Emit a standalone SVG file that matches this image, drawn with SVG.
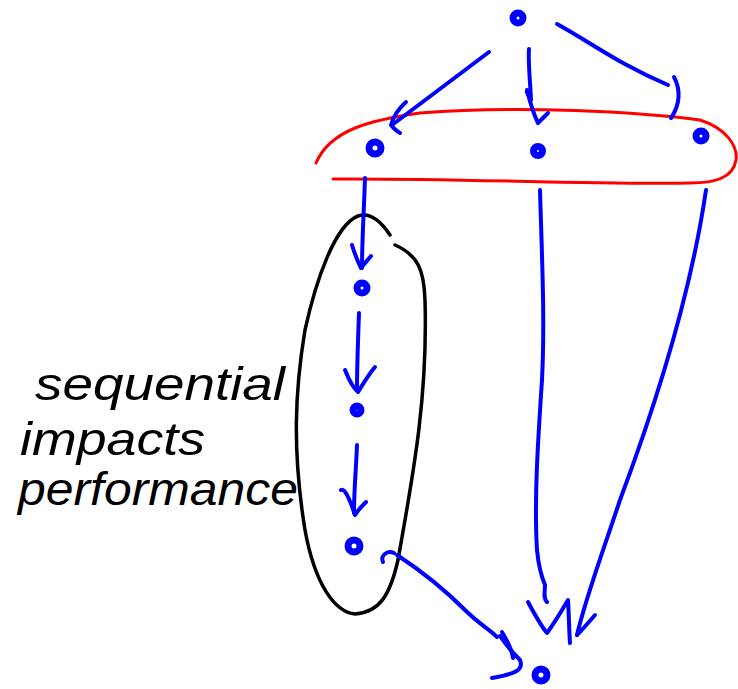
<svg xmlns="http://www.w3.org/2000/svg" width="738" height="689" viewBox="0 0 738 689">
<style>
.n{fill:none;stroke:#0000ff;stroke-width:7;stroke-linecap:round}
.c{fill:none;stroke:#0000ff;stroke-width:4;stroke-linecap:round;stroke-linejoin:round}
.red{fill:none;stroke:#ff0000;stroke-width:3;stroke-linecap:round}
.blk{fill:none;stroke:#000000;stroke-width:3.5;stroke-linecap:round}
.t{font-family:"Liberation Sans",Arial,sans-serif;font-style:italic;font-size:46px;fill:#000000}
</style>
<rect width="738" height="689" fill="#ffffff"/>
<g id="groups">
<path id="red-group" class="red" d="M316,163 C330,130 370,120 420,113 C520,105 640,112 700,120 C725,128 738,145 736,160 C733,178 715,183 690,183 C600,185 450,178 333,179"/>
<path id="black-group" class="blk" d="M390,235 C380,220 370,212 358,216 C335,225 316,280 305,330 C295,390 292,450 305,530 C315,585 335,612 355,614 C380,612 390,595 398,560 C412,480 428,400 425,300 C424,270 418,255 395,245"/>
</g>
<g id="connectors">
<path class="c" d="M489,52 L392,125"/>
<path class="c" d="M406,102 C397,110 393,118 391,125 C395,130 398,132 400,133"/>
<path class="c" d="M529,49 C528,62 530,78 531,100 C528,95 526,90 527,92"/>
<path class="c" d="M527,90 C530,102 533,113 538,123 C542,119 545,116 548,113"/>
<path class="c" d="M557,24 C590,42 620,65 668,85"/>
<path class="c" d="M674,77 C681,90 680,105 671,118"/>
<path class="c" d="M365,178 C364,210 362,240 362,268"/>
<path class="c" d="M352,245 C355,255 358,262 361,268 C364,264 367,261 371,256"/>
<path class="c" d="M359,313 C358,340 357,365 357,390"/>
<path class="c" d="M345,370 C349,380 353,388 358,392 C363,384 369,374 375,367"/>
<path class="c" d="M357,445 C356,470 354,490 354,513"/>
<path class="c" d="M341,490 C345,488 350,500 355,515 C358,510 362,506 366,502"/>
<path class="c" d="M540,190 C542,260 545,320 542,380 C538,440 534,500 537,550 C539,570 542,578 545,585 C545,592 543,598 547,602"/>
<path class="c" d="M528,602 C535,615 541,626 547,633 C555,622 561,612 568,600 C569,615 569,630 570,643"/>
<path class="c" d="M706,190 C690,300 650,420 620,500 C600,560 585,600 577,635"/>
<path class="c" d="M595,615 C589,622 583,629 577,635"/>
<path class="c" d="M383,562 C380,555 388,550 394,553"/>
<path class="c" d="M397,555 C420,570 445,590 465,610 C478,623 490,630 497,637"/>
<path class="c" d="M502,632 C508,642 512,650 513,658"/>
<path class="c" d="M500,636 C506,645 512,652 520,660 C524,670 515,674 492,678"/>
</g>
<g id="node-top"><circle class="n" cx="518" cy="18" r="5"/></g>
<g id="node-left"><circle class="n" cx="375" cy="148" r="6"/></g>
<g id="node-center"><circle class="n" cx="538" cy="151" r="4.5"/></g>
<g id="node-right"><circle class="n" cx="701" cy="136" r="5"/></g>
<g id="node-chain1"><circle class="n" cx="362" cy="288" r="5"/></g>
<g id="node-chain2"><circle class="n" cx="357" cy="410" r="4"/></g>
<g id="node-chain3"><circle class="n" cx="354" cy="546" r="6"/></g>
<g id="node-bottom"><circle class="n" cx="541" cy="675" r="6"/></g>
<g id="label">
<text class="t" x="35" y="400" textLength="250" lengthAdjust="spacingAndGlyphs">sequential</text>
<text class="t" x="20" y="455" textLength="185" lengthAdjust="spacingAndGlyphs">impacts</text>
<text class="t" x="18" y="505" textLength="280" lengthAdjust="spacingAndGlyphs">performance</text>
</g>
</svg>
